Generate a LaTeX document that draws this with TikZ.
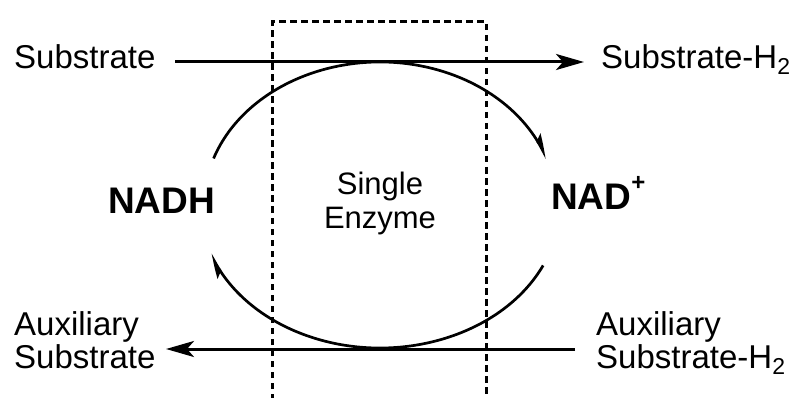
\documentclass[tikz,border=0pt]{standalone}
\usepackage{fontspec}
\setmainfont{Liberation Sans}
\usetikzlibrary{arrows.meta,bending}
\newcommand\subtwo{\raisebox{-6pt}{\fontsize{23pt}{23pt}\selectfont 2}}
\begin{document}
\begin{tikzpicture}[x=1pt,y=1pt,
  lbl/.style={inner sep=0pt,font=\fontsize{33pt}{33pt}\selectfont},
  cofactor/.style={inner sep=0pt,font=\fontsize{37pt}{37pt}\selectfont\bfseries},
  enz/.style={inner sep=0pt,font=\fontsize{31pt}{31pt}\selectfont},
  flow/.style={line width=3pt,-{Stealth[length=28pt,width=16pt,inset=7pt]}},
  cycle/.style={line width=2.7pt,-{Stealth[harpoon,length=20pt,width=13pt,inset=4pt,bend]}},
  boxline/.style={line width=3pt,dash pattern=on 6.5pt off 4.5pt}]
\useasboundingbox (0,0) rectangle (793,397);

% enzyme compartment
\draw[boxline] (272,-3) -- (272,375) -- (486,375) -- (486,-3);

% labels
\node[lbl,anchor=base west] (sub) at (14,328) {Substrate};
\node[lbl,anchor=base west] (subH) at (601,328) {Substrate-H\subtwo};
\node[lbl,anchor=base west] (auxA) at (14,62) {Auxiliary};
\node[lbl,anchor=base west] (auxB) at (14,29) {Substrate};
\node[lbl,anchor=base west] (auxHA) at (596,62) {Auxiliary};
\node[lbl,anchor=base west] (auxHB) at (596,29) {Substrate-H\subtwo};
\node[cofactor,anchor=base west] (nadh) at (108,184) {NADH};
\node[cofactor,anchor=base west] (nad) at (551,187) {NAD\raisebox{20pt}{\fontsize{24pt}{24pt}\selectfont +}};
\node[enz,anchor=base] (single) at (380,202) {Single};
\node[enz,anchor=base] (enzyme) at (380,168) {Enzyme};

% arrow end points
\coordinate (s1) at (175,335);
\coordinate (s2) at (584,335);
\coordinate (a1) at (575,48);
\coordinate (a2) at (166,48);
\draw[flow] (s1) -- (s2);
\draw[flow] (a1) -- (a2);

% cofactor cycle
\coordinate (cc) at (380,192);
\draw[cycle] ([shift={(161:176 and 143)}]cc) arc[start angle=161,end angle=19,x radius=176,y radius=143];
\draw[cycle] ([shift={(-25:180 and 143)}]cc) arc[start angle=-25,end angle=-160,x radius=180,y radius=143];
\end{tikzpicture}
\end{document}
